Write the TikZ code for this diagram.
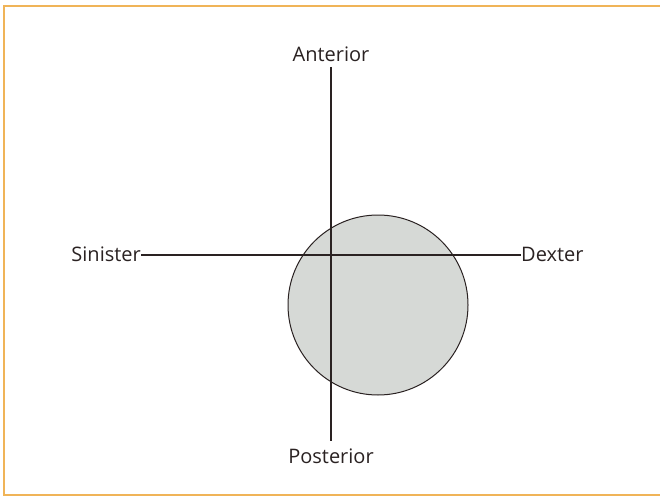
\documentclass[tikz,border=0pt]{standalone}
\usepackage{fontspec}
\setmainfont{Open Sans}
\definecolor{frame}{HTML}{F0B458}
\definecolor{disc}{HTML}{D6D9D6}
\definecolor{ink}{HTML}{2A2222}
\begin{document}
\begin{tikzpicture}[x=1pt,y=-1pt,
  axis/.style={draw=ink,line width=1.3pt},
  lbl/.style={font=\fontsize{20}{22}\selectfont,text=ink,inner sep=0pt}]
\useasboundingbox (0,0) rectangle (660,497);
\fill[white] (0,0) rectangle (660,497);
\draw[frame,line width=2pt] (660,6) -- (4,6) -- (4,495) -- (660,495);
\draw[ink,line width=1pt,fill=disc] (378,305) circle (90);
\node[lbl] (ant) at (331,54) {Anterior};
\node[lbl] (post) at (331,456) {Posterior};
\node[lbl,anchor=east] (sin) at (141,254) {Sinister};
\node[lbl,anchor=west] (dex) at (521,254) {Dexter};
\coordinate (top) at (331,67);
\coordinate (bot) at (331,441);
\coordinate (left) at (141,255);
\coordinate (right) at (521,255);
\draw[axis] (top) -- (bot);
\draw[axis] (left) -- (right);
\end{tikzpicture}
\end{document}
